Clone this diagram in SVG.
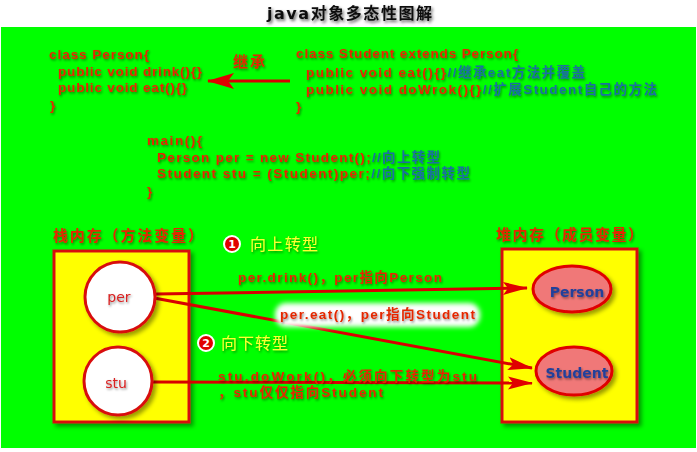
<svg xmlns="http://www.w3.org/2000/svg" width="697" height="452" viewBox="0 0 697 452">
<defs>
<filter id="ts" x="-10%" y="-40%" width="120%" height="180%"><feDropShadow dx="1" dy="1.5" stdDeviation="1" flood-color="#000" flood-opacity="0.45"/></filter>
<filter id="tt" x="-10%" y="-50%" width="120%" height="200%"><feDropShadow dx="1.5" dy="2" stdDeviation="1.6" flood-color="#000" flood-opacity="0.6"/></filter>
<filter id="bs" x="-10%" y="-10%" width="130%" height="130%"><feDropShadow dx="3" dy="3" stdDeviation="2" flood-color="#000" flood-opacity="0.4"/></filter>
<filter id="cloud" x="-10%" y="-30%" width="120%" height="160%"><feGaussianBlur stdDeviation="2.5"/></filter>
<marker id="arr" markerWidth="26" markerHeight="14" refX="24" refY="7" orient="auto" markerUnits="userSpaceOnUse"><path d="M0,0.5 L25,7 L0,13.5 L5,7 z" fill="#e00000"/></marker>
<marker id="arrBig" markerWidth="28" markerHeight="16" refX="26" refY="8" orient="auto" markerUnits="userSpaceOnUse"><path d="M0,0 L27,8 L0,16 L6,8 z" fill="#e00000"/></marker>
</defs>
<style>
text{font-family:"DejaVu Sans","Noto Sans CJK SC",sans-serif;}
.code,.note{font-family:"Liberation Sans","Noto Sans CJK SC",sans-serif;font-size:13.5px;font-weight:bold;fill:#e42800;filter:url(#ts);}
.cmt{fill:#1a6fa0;}
.lbl{font-size:15px;font-weight:bold;fill:#e42800;filter:url(#ts);}
.yel{font-size:16px;fill:#ffff30;filter:url(#ts);}
.box{fill:#ffff00;stroke:#d81010;stroke-width:3;filter:url(#bs);}
.circ{fill:#ffffff;stroke:#d81010;stroke-width:3;filter:url(#bs);}
.ell{fill:#f07878;stroke:#e00000;stroke-width:3;filter:url(#bs);}
.ctext{font-size:14px;fill:#d82020;text-anchor:middle;filter:url(#ts);}
.etext{font-size:14px;font-weight:bold;fill:#24409a;text-anchor:middle;filter:url(#ts);}
.conn{stroke:#d80000;stroke-width:3;fill:none;}
.num{fill:#e00000;stroke:#ffffff;stroke-width:2;}
.numt{font-size:11px;font-weight:bold;fill:#ffffff;text-anchor:middle;}
</style>
<rect x="0" y="0" width="697" height="452" fill="#ffffff"/>
<text x="267" y="19" font-size="16" font-weight="bold" fill="#111" textLength="165" lengthAdjust="spacing" filter="url(#tt)">java对象多态性图解</text>
<rect x="1" y="27" width="695" height="421" fill="#00ff00"/>

<g id="code-person">
<text class="code" x="49" y="59" textLength="100" lengthAdjust="spacing">class Person{</text>
<text class="code" x="58" y="76" textLength="144" lengthAdjust="spacing">public void drink(){}</text>
<text class="code" x="58" y="92" textLength="129" lengthAdjust="spacing">public void eat(){}</text>
<text class="code" x="50" y="110">}</text>
</g>
<g id="code-student">
<text class="code" x="296" y="58" textLength="222" lengthAdjust="spacing">class Student extends Person{</text>
<text class="code" x="306" y="77" textLength="279" lengthAdjust="spacing">public void eat(){}<tspan class="cmt">//继承eat方法并覆盖</tspan></text>
<text class="code" x="306" y="94" textLength="351" lengthAdjust="spacing">public void doWrok(){}<tspan class="cmt">//扩展Student自己的方法</tspan></text>
<text class="code" x="296" y="111">}</text>
</g>
<g id="code-main">
<text class="code" x="147" y="145" textLength="55" lengthAdjust="spacing">main(){</text>
<text class="code" x="157" y="162" textLength="283" lengthAdjust="spacing">Person per = new Student();<tspan class="cmt">//向上转型</tspan></text>
<text class="code" x="157" y="178" textLength="313" lengthAdjust="spacing">Student stu = (Student)per;<tspan class="cmt">//向下强制转型</tspan></text>
<text class="code" x="147" y="196">}</text>
</g>

<g id="stack">
<text class="lbl" x="53" y="241" textLength="150" lengthAdjust="spacing">栈内存（方法变量）</text>
<rect class="box" x="54" y="251" width="135" height="171"/>
</g>
<g id="heap">
<text class="lbl" x="496" y="240" textLength="147" lengthAdjust="spacing">堆内存（成员变量）</text>
<rect class="box" x="502" y="249" width="135" height="173"/>
</g>

<g id="connectors">
<line class="conn" x1="290" y1="81" x2="208" y2="81" stroke-width="4" marker-end="url(#arrBig)"/>
<line class="conn" x1="156" y1="294" x2="527" y2="288" marker-end="url(#arr)"/>
<line class="conn" x1="154" y1="298" x2="532" y2="368" marker-end="url(#arr)"/>
<line class="conn" x1="153" y1="382" x2="532" y2="383" marker-end="url(#arr)"/>
</g>
<text class="lbl" x="233" y="67" textLength="32" lengthAdjust="spacing">继承</text>

<g id="node-per">
<circle class="circ" cx="120" cy="297" r="35"/>
<text class="ctext" x="119" y="302">per</text>
</g>
<g id="node-stu">
<circle class="circ" cx="118" cy="381" r="34"/>
<text class="ctext" x="116" y="388">stu</text>
</g>
<g id="node-Person">
<ellipse class="ell" cx="572" cy="289" rx="39" ry="23"/>
<text class="etext" x="577" y="297">Person</text>
</g>
<g id="node-Student">
<ellipse class="ell" cx="574" cy="371" rx="38" ry="24"/>
<text class="etext" x="577" y="378">Student</text>
</g>

<g id="labels">
<circle class="num" cx="232" cy="244" r="8"/>
<text class="numt" x="232" y="248">1</text>
<text class="yel" x="250" y="250" textLength="68" lengthAdjust="spacing">向上转型</text>
<text class="note" x="238" y="282" textLength="204" lengthAdjust="spacing">per.drink()，per指向Person</text>
<rect x="275" y="303" width="205" height="24" rx="11" fill="#ffffff" filter="url(#cloud)"/>
<text class="note" x="280" y="319" textLength="195" lengthAdjust="spacing">per.eat()，per指向Student</text>
<circle class="num" cx="206" cy="343" r="8"/>
<text class="numt" x="206" y="347">2</text>
<text class="yel" x="221" y="349" textLength="67" lengthAdjust="spacing">向下转型</text>
<text class="note" x="218" y="381" textLength="259" lengthAdjust="spacing">stu.doWork()，必须向下转型为stu</text>
<text class="note" x="218" y="397" textLength="165" lengthAdjust="spacing">，stu仅仅指向Student</text>
</g>
</svg>
